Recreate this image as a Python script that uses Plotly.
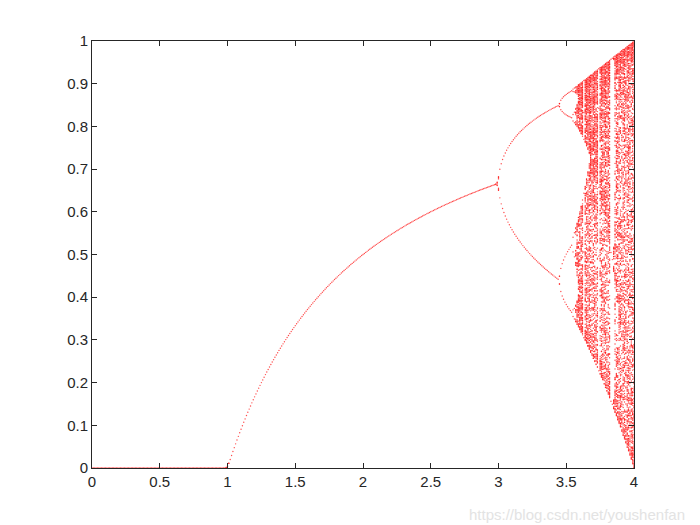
import numpy as np
import plotly.graph_objects as go

# Logistic map x_{n+1} = r * x_n * (1 - x_n); the reference is its bifurcation diagram
r_range = [0.0, 4.0]
r_step = 0.01
n_transient = 200
n_keep = 300
x_start = 0.1

x_tick_vals = [0, 0.5, 1, 1.5, 2, 2.5, 3, 3.5, 4]
x_tick_text = ["0", "0.5", "1", "1.5", "2", "2.5", "3", "3.5", "4"]
y_tick_vals = [0, 0.1, 0.2, 0.3, 0.4, 0.5, 0.6, 0.7, 0.8, 0.9, 1]
y_tick_text = ["0", "0.1", "0.2", "0.3", "0.4", "0.5", "0.6", "0.7", "0.8", "0.9", "1"]
watermark = "https://blog.csdn.net/youshenfan"

r = np.arange(r_range[0], r_range[1] + r_step / 2, r_step)
x = np.full_like(r, x_start)
for _ in range(n_transient):
    x = r * x * (1 - x)
rs, xs = [], []
for _ in range(n_keep):
    x = r * x * (1 - x)
    rs.append(r.copy())
    xs.append(x.copy())
rs = np.concatenate(rs)
xs = np.concatenate(xs)
# drop points that would be drawn on top of each other (same r, same pixel row)
keys = np.stack([np.round(rs / r_step), np.round(xs / 0.002)], axis=1)
_, idx = np.unique(keys, axis=0, return_index=True)
rs, xs = rs[idx], xs[idx]

fig = go.Figure()
fig.add_trace(go.Scatter(
    x=rs, y=xs, mode="markers",
    marker=dict(color="#ff0000", size=1.4, opacity=0.7, line=dict(width=0)),
    hoverinfo="skip", showlegend=False,
))

axis_common = dict(
    showgrid=False, zeroline=False, showline=True, linecolor="#262626", linewidth=1,
    mirror="ticks", ticks="inside", ticklen=5, tickcolor="#262626",
    tickfont=dict(family="Liberation Sans, Arial, sans-serif", size=15, color="#262626"),
)
fig.update_xaxes(range=r_range, tickvals=x_tick_vals, ticktext=x_tick_text, **axis_common)
fig.update_yaxes(range=[0, 1], tickvals=y_tick_vals, ticktext=y_tick_text, **axis_common)

fig.add_annotation(
    text=watermark, xref="paper", yref="paper", x=1.097, y=-0.108,
    xanchor="right", yanchor="middle", showarrow=False,
    font=dict(family="Liberation Sans, Arial, sans-serif", size=15, color="#e3e3e3"),
)

fig.update_layout(
    width=700, height=525, paper_bgcolor="white", plot_bgcolor="white",
    margin=dict(l=84, r=74, t=33, b=65),
)
fig.write_html("out.html")
